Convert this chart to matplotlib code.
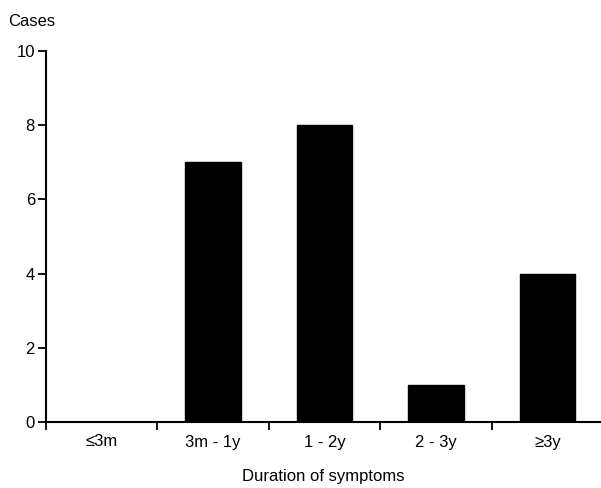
import numpy as np
import matplotlib.pyplot as plt

plt.rcParams['font.family'] = ['Liberation Sans', 'DejaVu Sans']

categories = ['≤3m', '3m - 1y', '1 - 2y', '2 - 3y', '≥3y']
cases = [0, 7, 8, 1, 4]

fig = plt.figure(figsize=(6.01, 4.88), dpi=100)
ax = fig.add_axes([46 / 601, 66 / 488, 1 - 46 / 601, (422 - 51) / 488])

x = np.arange(len(categories)) + 0.5
ax.bar(x, cases, width=0.5, color='black', edgecolor='black')

ax.set_xlim(0, 4.98)
ax.set_ylim(0, 10)
ax.set_yticks([0, 2, 4, 6, 8, 10])
ax.set_xticks(np.arange(0, 5))
ax.set_xticklabels([])
ax.set_xticks(x, minor=True)
ax.set_xticklabels(categories, minor=True)
ax.tick_params(axis='x', which='minor', length=0, pad=9, labelsize=12)
ax.tick_params(axis='x', which='major', length=6, width=1.3, direction='out')
ax.tick_params(axis='y', length=6, width=1.3, direction='out', labelsize=12, pad=2)

for side in ['top', 'right']:
    ax.spines[side].set_visible(False)
for side in ['left', 'bottom']:
    ax.spines[side].set_linewidth(1.5)

ax.set_xlabel('Duration of symptoms', fontsize=12, labelpad=14)
fig.text(8 / 601, 1 - 22 / 488, 'Cases', fontsize=12, va='center', ha='left')

fig.savefig('out.png', dpi=100)
